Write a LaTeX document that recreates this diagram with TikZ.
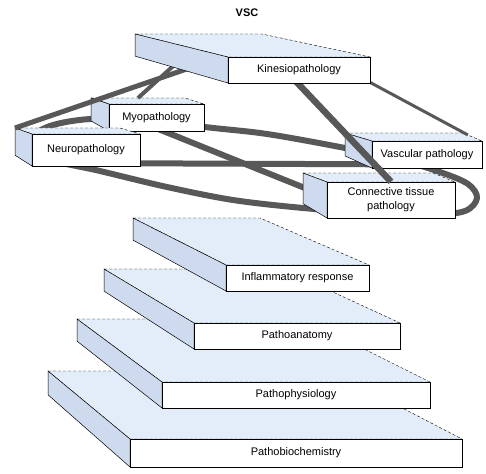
\documentclass[tikz,border=0pt]{standalone}
\usepackage{fontspec}
\setmainfont{Liberation Sans}
\usetikzlibrary{calc}

\definecolor{topblue}{RGB}{226,237,249}
\definecolor{sideblue}{RGB}{206,219,239}
\definecolor{bandgray}{RGB}{88,88,88}

\pgfdeclarelayer{background}
\pgfdeclarelayer{foreground}
\pgfsetlayers{background,main,foreground}

% name, front left, front top, front right, front bottom, back left, back top, back right, text
\newcommand{\slab}[9]{%
    \coordinate (#1-bl) at (#6,#7);
    \coordinate (#1-br) at (#8,#7);
    \coordinate (#1-lb) at (#6,{#7+0.85*(#5-#3)});
    \draw[topface] (#1-bl) -- (#1-br) -- (#4,#3) -- (#2,#3) -- cycle;
    \draw[sideface] (#1-bl) -- (#2,#3) -- (#2,#5) -- (#1-lb) -- cycle;
    \node[frontface, minimum width={(#4-#2)*1pt}, minimum height={(#5-#3)*1pt}]
        (#1) at ({(#2+#4)/2},{(#3+#5)/2}) {#9};
}

\begin{document}
\begin{tikzpicture}[x=1pt, y=-1pt,
        topface/.style={fill=topblue, draw, densely dashed, line width=0.4pt},
        sideface/.style={fill=sideblue, draw, line width=0.5pt},
        frontface/.style={fill=white, draw, line width=0.6pt, inner sep=0pt,
            align=center, font=\fontsize{11}{14}\selectfont},
        band/.style={draw=bandgray, line width=6pt}]
    \useasboundingbox (0,0) rectangle (486,473);

    % the base stack, bottom slab first
    \slab{pbc}{130}{439}{462}{467}{48}{371}{331}{Pathobiochemistry}
    \slab{pph}{162}{382}{430}{408}{77}{319}{304}{Pathophysiology}
    \slab{pan}{194}{323}{400}{349}{104}{269}{283}{Pathoanatomy}
    \slab{inf}{226}{265}{369}{291}{133}{218}{260}{Inflammatory response}

    % the four boxes round the loop
    \slab{vas}{372}{141}{482}{168}{345}{133}{463}{Vascular pathology}
    \slab{myo}{109}{104}{204}{131}{91}{98}{185}{Myopathology}
    \slab{neu}{32}{134}{140}{166}{15}{128}{120}{Neuropathology}
    \slab{con}{327}{182}{455}{218}{303}{173}{433}{Connective tissue\\pathology}

    \begin{pgfonlayer}{background}
        \draw[band] plot[smooth cycle, tension=0.55] coordinates {
            (30,140) (50,126) (90,119) (150,119) (205,127) (267,134) (345,148)
            (400,160) (440,172) (468,184) (477,198) (465,211) (430,215) (370,213)
            (303,208) (233,200) (167,187) (100,171) (45,158)};
        \draw[band] ($(myo.south)+(-5,-5)$) -- ($(con.west)+(-12,-8)$);
        \draw[band] ($(neu.south east)+(-6,-3)$) -- ($(vas.south west)+(6,-4)$);
    \end{pgfonlayer}

    \begin{pgfonlayer}{foreground}
        \slab{kin}{228}{57}{370}{83}{135}{34}{262}{Kinesiopathology}
    \end{pgfonlayer}

    % bars from the top box
    \draw[band, line width=5pt] ($(kin-bl)!0.65!(kin.south west)$) -- (neu-bl);
    \draw[band, line width=4pt] ($(kin-bl)!0.5!(kin.south west)$) -- ($(myo-bl)!0.5!(myo-br)$);
    \draw[band, line width=3pt] ($(kin.south east)+(-6,-4)$) -- ($(vas-br)!0.25!(vas.north east)$);
    \draw[band, line width=6.5pt] ($(kin.south)+(-6,-5)$) -- (con.north);

    \node[font=\bfseries\fontsize{11}{13}\selectfont] (vsc) at (247,13) {VSC};
\end{tikzpicture}
\end{document}
